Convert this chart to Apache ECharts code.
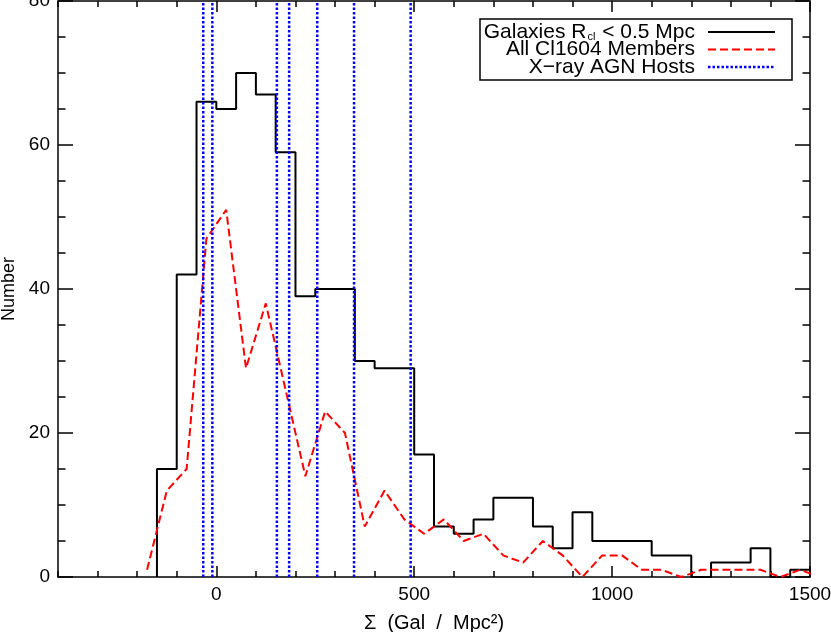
<!DOCTYPE html>
<html>
<head>
<meta charset="utf-8">
<script src="https://cdn.jsdelivr.net/npm/echarts@6/dist/echarts.min.js"></script>
<style>
html, body { margin: 0; padding: 0; background: #fff; }
#main { width: 831px; height: 632px; }
</style>
</head>
<body>
<div id="main"></div>
<script>
// histogram of galaxies with R_cl < 0.5 Mpc, 50-wide bins starting at -150
var histStart = -150;
var binWidth = 50;
var histCounts = [15, 42, 66, 65, 70, 67, 59, 39, 40, 40, 30, 29, 29, 17, 7, 6, 8, 11, 11, 7,
                  4, 9, 5, 5, 5, 3, 3, 0, 2, 2, 4, 0, 1];

// all Cl1604 members, drawn at bin centres
var memberSigma = [-175, -125, -75, -25, 25, 75, 125, 175, 225, 275, 325, 375, 425, 475, 525, 575,
                   625, 675, 725, 775, 825, 875, 925, 975, 1025, 1075, 1125, 1175, 1225, 1275,
                   1325, 1375, 1425, 1475, 1525];
var memberCounts = [1, 12, 15, 47, 51, 29, 38, 26, 14, 23, 20, 7, 12, 8, 6, 8,
                    5, 6, 3, 2, 5, 3, 0, 3, 3, 1, 1, 0, 1, 1,
                    1, 1, 0, 1, 0];

// X-ray AGN hosts
var agnSigma = [-33, -10, 153, 184, 255, 348, 491];

var xMajorTicks = [0, 500, 1000, 1500];

var FONT = 'Liberation Sans';

var histData = [[histStart, 0]];
for (var i = 0; i < histCounts.length; i++) {
    histData.push([histStart + i * binWidth, histCounts[i]]);
}
histData.push([histStart + histCounts.length * binWidth, histCounts[histCounts.length - 1]]);

var memberData = memberSigma.map(function (s, i) { return [s, memberCounts[i]]; });

var dom = document.getElementById('main');
var myChart = echarts.init(dom);

var axisLine = { show: true, onZero: false, lineStyle: { color: '#000', width: 1.5 } };
var tickStyle = { color: '#000', width: 1.5 };
var plainNum = function (v) { return String(v); };

function xAxisBase(pos) {
    return {
        type: 'value', position: pos, min: -400, max: 1500, interval: 100,
        axisLine: axisLine,
        axisTick: { show: true, inside: true, length: 6, lineStyle: tickStyle },
        axisLabel: { show: false },
        splitLine: { show: false }
    };
}
function xAxisMajor(pos, labels) {
    return {
        type: 'value', position: pos, min: -400, max: 1500, interval: 100,
        axisLine: { show: false, onZero: false },
        axisTick: { show: true, inside: true, length: 11, lineStyle: tickStyle, customValues: xMajorTicks },
        axisLabel: labels ? { show: true, customValues: xMajorTicks, formatter: plainNum, color: '#000', fontFamily: FONT, fontSize: 19, margin: 8 } : { show: false },
        splitLine: { show: false },
        name: labels ? 'Σ  (Gal  /  Mpc²)' : '',
        nameLocation: 'middle',
        nameGap: 36,
        nameTextStyle: { color: '#000', fontFamily: FONT, fontSize: 20 }
    };
}
function yAxis(pos, labels) {
    return {
        type: 'value', position: pos, min: 0, max: 80, interval: 20,
        axisLine: axisLine,
        axisTick: { show: true, inside: true, length: 15, lineStyle: tickStyle },
        minorTick: { show: true, splitNumber: 4, length: 7.5, lineStyle: tickStyle },
        axisLabel: labels ? { show: true, formatter: plainNum, color: '#000', fontFamily: FONT, fontSize: 19, margin: 8 } : { show: false },
        splitLine: { show: false },
        minorSplitLine: { show: false },
        name: labels ? 'Number' : '',
        nameLocation: 'middle',
        nameGap: 38,
        nameTextStyle: { color: '#000', fontFamily: FONT, fontSize: 18 }
    };
}

var series = [
    {
        name: 'Galaxies', type: 'line', step: 'end', data: histData,
        xAxisIndex: 0, yAxisIndex: 0,
        showSymbol: false, symbol: 'none', silent: true,
        lineStyle: { color: '#000', width: 2 }, z: 3
    },
    {
        name: 'Members', type: 'line', data: memberData,
        xAxisIndex: 0, yAxisIndex: 0,
        showSymbol: false, symbol: 'none', silent: true,
        lineStyle: { color: '#ff0000', width: 2, type: [8, 4] }, z: 4
    }
];
agnSigma.forEach(function (s) {
    series.push({
        type: 'line', data: [[s, 0], [s, 80]],
        xAxisIndex: 0, yAxisIndex: 0,
        showSymbol: false, symbol: 'none', silent: true,
        lineStyle: { color: '#0000ff', width: 2.5, type: [2.5, 2] }, z: 5
    });
});

// legend box
var lgX = 480, lgY = 19, lgW = 312, lgH = 61;
var rowY = [32, 49.5, 67];
var textX = 695, lineX1 = 708, lineX2 = 775;
var graphic = [
    { type: 'rect', shape: { x: lgX, y: lgY, width: lgW, height: lgH },
      style: { fill: '#fff', stroke: '#000', lineWidth: 1.5 }, z: 10 },
    { type: 'text', x: textX, y: rowY[0], z: 11,
      style: { text: 'Galaxies R{sub|cl} < 0.5 Mpc', align: 'right', verticalAlign: 'middle',
               fill: '#000', font: '21px ' + FONT,
               rich: { sub: { fontSize: 11, fontFamily: FONT, fill: '#000', padding: [9, 1, 0, 1] } } } },
    { type: 'text', x: textX, y: rowY[1], z: 11,
      style: { text: 'All Cl1604 Members', align: 'right', verticalAlign: 'middle', fill: '#000', font: '21px ' + FONT } },
    { type: 'text', x: textX, y: rowY[2], z: 11,
      style: { text: 'X\u2212ray AGN Hosts', align: 'right', verticalAlign: 'middle', fill: '#000', font: '21px ' + FONT } },
    { type: 'line', z: 11, shape: { x1: lineX1, y1: rowY[0], x2: lineX2, y2: rowY[0] },
      style: { stroke: '#000', lineWidth: 2 } },
    { type: 'line', z: 11, shape: { x1: lineX1, y1: rowY[1], x2: lineX2, y2: rowY[1] },
      style: { stroke: '#ff0000', lineWidth: 2, lineDash: [8, 4] } },
    { type: 'line', z: 11, shape: { x1: lineX1, y1: rowY[2], x2: lineX2, y2: rowY[2] },
      style: { stroke: '#0000ff', lineWidth: 2.5, lineDash: [2.5, 2] } }
];

option = {
    backgroundColor: '#fff',
    animation: false,
    grid: { left: 58, right: 21, top: 1, bottom: 55, containLabel: false, outerBoundsMode: 'none' },
    xAxis: [xAxisBase('bottom'), xAxisMajor('bottom', true), xAxisBase('top'), xAxisMajor('top', false)],
    yAxis: [yAxis('left', true), yAxis('right', false)],
    series: series,
    graphic: graphic
};
myChart.setOption(option, true);
</script>
</body>
</html>
